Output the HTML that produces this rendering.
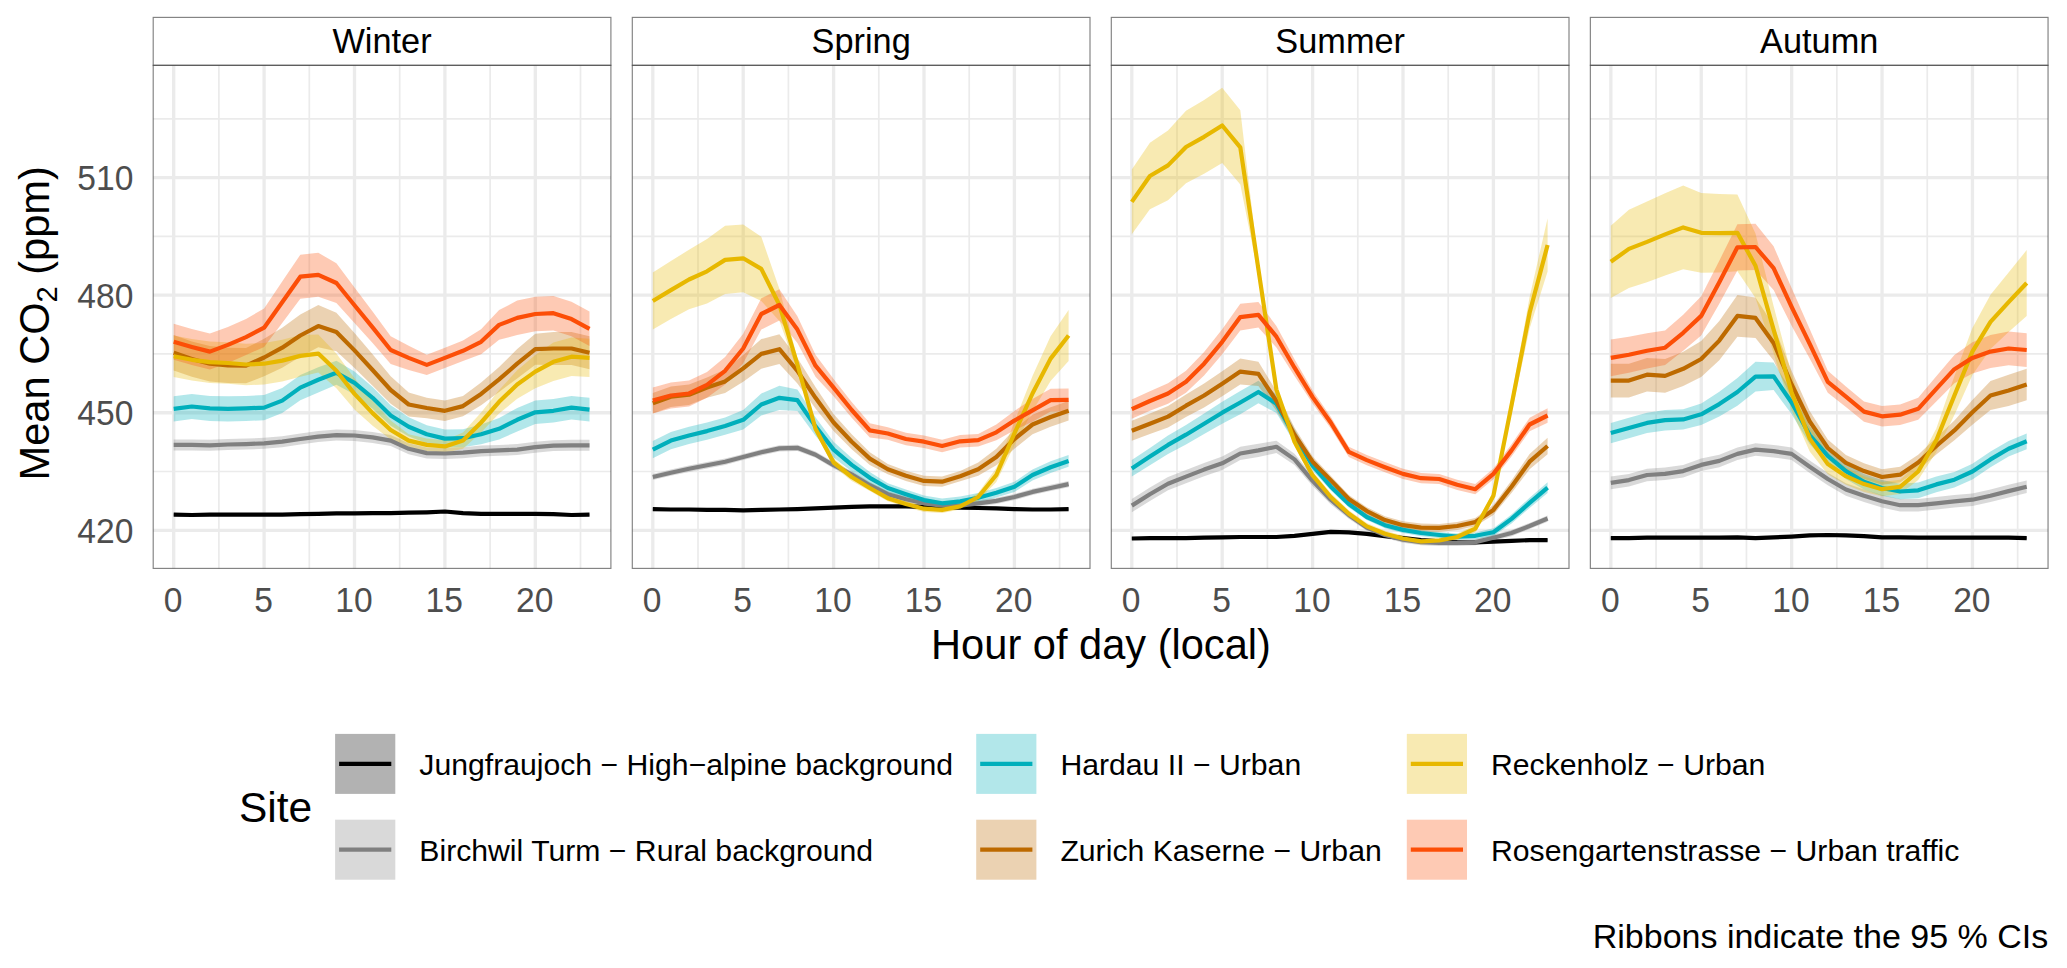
<!DOCTYPE html>
<html lang="en"><head><meta charset="utf-8"><title>Mean CO2 by hour of day</title>
<style>html,body{margin:0;padding:0;background:#fff}body{width:2067px;height:968px;overflow:hidden}svg{display:block}text{font-family:"Liberation Sans",Arial,sans-serif;font-variant-ligatures:none;font-feature-settings:"liga" 0,"clig" 0}</style>
</head><body>
<svg width="2067" height="968" viewBox="0 0 2067 968">
<rect width="2067" height="968" fill="#fff"/>
<defs>
<clipPath id="cp0"><rect x="153.20" y="65.30" width="457.70" height="503.10"/></clipPath>
<clipPath id="cp1"><rect x="632.30" y="65.30" width="457.70" height="503.10"/></clipPath>
<clipPath id="cp2"><rect x="1111.30" y="65.30" width="457.70" height="503.10"/></clipPath>
<clipPath id="cp3"><rect x="1590.35" y="65.30" width="457.70" height="503.10"/></clipPath>
</defs>
<g>
<path d="M153.20 471.51H610.90M153.20 353.94H610.90M153.20 236.37H610.90M153.20 118.80H610.90M218.90 65.30V568.40M309.30 65.30V568.40M399.70 65.30V568.40M490.10 65.30V568.40M580.50 65.30V568.40" stroke="#EBEBEB" stroke-width="1.7" fill="none"/>
<path d="M153.20 530.30H610.90M153.20 412.73H610.90M153.20 295.16H610.90M153.20 177.59H610.90M173.70 65.30V568.40M264.10 65.30V568.40M354.50 65.30V568.40M444.90 65.30V568.40M535.30 65.30V568.40" stroke="#EBEBEB" stroke-width="3.3" fill="none"/>
<g clip-path="url(#cp0)">
<path d="M173.7 513.4 L191.8 513.8 L209.9 513.4 L227.9 513.4 L246.0 513.4 L264.1 513.4 L282.2 513.4 L300.3 513.1 L318.3 512.7 L336.4 512.3 L354.5 512.3 L372.6 511.9 L390.7 511.9 L408.7 511.5 L426.8 511.1 L444.9 510.3 L463.0 511.9 L481.1 512.7 L499.1 512.7 L517.2 512.7 L535.3 512.7 L553.4 513.1 L571.5 513.8 L589.5 513.4 L589.5 515.8 L571.5 516.2 L553.4 515.4 L535.3 515.0 L517.2 515.0 L499.1 515.0 L481.1 515.0 L463.0 514.2 L444.9 512.7 L426.8 513.4 L408.7 513.8 L390.7 514.2 L372.6 514.2 L354.5 514.6 L336.4 514.6 L318.3 515.0 L300.3 515.4 L282.2 515.8 L264.1 515.8 L246.0 515.8 L227.9 515.8 L209.9 515.8 L191.8 516.2 L173.7 515.8 Z" fill="#000000" fill-opacity="0.30"/>
<path d="M173.7 439.4 L191.8 439.4 L209.9 439.8 L227.9 439.0 L246.0 438.6 L264.1 437.8 L282.2 436.2 L300.3 433.5 L318.3 431.1 L336.4 429.6 L354.5 430.0 L372.6 431.9 L390.7 435.1 L408.7 443.3 L426.8 447.6 L444.9 448.0 L463.0 447.2 L481.1 445.6 L499.1 444.9 L517.2 444.1 L535.3 441.7 L553.4 440.2 L571.5 439.8 L589.5 439.8 L589.5 450.7 L571.5 450.7 L553.4 451.1 L535.3 452.7 L517.2 455.1 L499.1 455.8 L481.1 456.6 L463.0 458.2 L444.9 459.0 L426.8 458.6 L408.7 454.3 L390.7 446.0 L372.6 442.9 L354.5 440.9 L336.4 440.6 L318.3 442.1 L300.3 444.5 L282.2 447.2 L264.1 448.8 L246.0 449.6 L227.9 450.0 L209.9 450.7 L191.8 450.4 L173.7 450.4 Z" fill="#808080" fill-opacity="0.30"/>
<path d="M173.7 396.3 L191.8 393.9 L209.9 395.9 L227.9 396.3 L246.0 395.9 L264.1 395.1 L282.2 388.0 L300.3 375.1 L318.3 367.3 L336.4 360.7 L354.5 371.4 L372.6 386.9 L390.7 405.2 L408.7 417.2 L426.8 425.3 L444.9 429.6 L463.0 429.2 L481.1 424.4 L499.1 418.0 L517.2 408.0 L535.3 400.6 L553.4 399.0 L571.5 395.9 L589.5 397.8 L589.5 421.4 L571.5 419.4 L553.4 422.5 L535.3 424.1 L517.2 431.5 L499.1 439.6 L481.1 444.2 L463.0 447.2 L444.9 447.6 L426.8 443.3 L408.7 436.5 L390.7 425.8 L372.6 408.8 L354.5 394.4 L336.4 384.8 L318.3 392.4 L300.3 400.2 L282.2 413.1 L264.1 420.2 L246.0 421.0 L227.9 421.4 L209.9 421.0 L191.8 419.0 L173.7 421.4 Z" fill="#00AFBB" fill-opacity="0.30"/>
<path d="M173.7 335.1 L191.8 341.4 L209.9 346.1 L227.9 347.7 L246.0 348.1 L264.1 338.7 L282.2 327.7 L300.3 314.4 L318.3 305.0 L336.4 312.7 L354.5 332.9 L372.6 354.3 L390.7 376.2 L408.7 392.5 L426.8 397.8 L444.9 400.6 L463.0 395.9 L481.1 382.6 L499.1 366.9 L517.2 349.1 L535.3 333.7 L553.4 332.0 L571.5 332.0 L589.5 336.3 L589.5 369.2 L571.5 364.9 L553.4 364.9 L535.3 364.8 L517.2 378.4 L499.1 392.0 L481.1 405.3 L463.0 416.3 L444.9 421.0 L426.8 418.2 L408.7 416.5 L390.7 403.8 L372.6 385.7 L354.5 367.9 L336.4 351.3 L318.3 347.3 L300.3 356.7 L282.2 367.7 L264.1 376.3 L246.0 383.3 L227.9 382.9 L209.9 381.4 L191.8 376.7 L173.7 370.4 Z" fill="#BD6A00" fill-opacity="0.30"/>
<path d="M173.7 335.5 L191.8 339.1 L209.9 341.4 L227.9 342.2 L246.0 343.8 L264.1 343.0 L282.2 339.8 L300.3 335.1 L318.3 334.5 L336.4 353.4 L354.5 378.2 L372.6 400.6 L390.7 420.6 L408.7 434.3 L426.8 438.6 L444.9 440.2 L463.0 432.5 L481.1 412.6 L499.1 390.0 L517.2 370.3 L535.3 354.9 L553.4 342.6 L571.5 337.5 L589.5 338.7 L589.5 377.1 L571.5 375.9 L553.4 381.0 L535.3 388.3 L517.2 398.8 L499.1 413.5 L481.1 432.5 L463.0 448.7 L444.9 452.7 L426.8 451.1 L408.7 446.8 L390.7 439.4 L372.6 425.7 L354.5 409.6 L336.4 388.2 L318.3 372.6 L300.3 376.7 L282.2 381.4 L264.1 384.5 L246.0 385.3 L227.9 383.7 L209.9 382.9 L191.8 380.6 L173.7 377.1 Z" fill="#E7B800" fill-opacity="0.30"/>
<path d="M173.7 323.8 L191.8 328.9 L209.9 333.6 L227.9 326.9 L246.0 319.1 L264.1 308.4 L282.2 281.6 L300.3 254.8 L318.3 252.8 L336.4 263.2 L354.5 287.6 L372.6 311.6 L390.7 336.2 L408.7 345.8 L426.8 354.7 L444.9 347.7 L463.0 340.6 L481.1 329.3 L499.1 310.1 L517.2 300.6 L535.3 296.7 L553.4 295.9 L571.5 301.8 L589.5 311.6 L589.5 346.1 L571.5 336.3 L553.4 330.4 L535.3 331.2 L517.2 335.1 L499.1 339.8 L481.1 354.3 L463.0 361.0 L444.9 368.1 L426.8 375.1 L408.7 369.9 L390.7 363.9 L372.6 343.0 L354.5 323.1 L336.4 302.9 L318.3 296.7 L300.3 298.7 L282.2 322.9 L264.1 347.0 L246.0 355.1 L227.9 363.0 L209.9 369.6 L191.8 364.9 L173.7 359.8 Z" fill="#FC4E07" fill-opacity="0.30"/>
<path d="M173.7 514.6 L191.8 515.0 L209.9 514.6 L227.9 514.6 L246.0 514.6 L264.1 514.6 L282.2 514.6 L300.3 514.2 L318.3 513.8 L336.4 513.4 L354.5 513.4 L372.6 513.1 L390.7 513.1 L408.7 512.7 L426.8 512.3 L444.9 511.5 L463.0 513.1 L481.1 513.8 L499.1 513.8 L517.2 513.8 L535.3 513.8 L553.4 514.2 L571.5 515.0 L589.5 514.6" fill="none" stroke="#000000" stroke-width="4.2" stroke-linejoin="round" stroke-linecap="butt"/>
<path d="M173.7 444.9 L191.8 444.9 L209.9 445.3 L227.9 444.5 L246.0 444.1 L264.1 443.3 L282.2 441.7 L300.3 439.0 L318.3 436.6 L336.4 435.1 L354.5 435.5 L372.6 437.4 L390.7 440.6 L408.7 448.8 L426.8 453.1 L444.9 453.5 L463.0 452.7 L481.1 451.1 L499.1 450.4 L517.2 449.6 L535.3 447.2 L553.4 445.6 L571.5 445.3 L589.5 445.3" fill="none" stroke="#808080" stroke-width="4.2" stroke-linejoin="round" stroke-linecap="butt"/>
<path d="M173.7 408.8 L191.8 406.5 L209.9 408.4 L227.9 408.8 L246.0 408.4 L264.1 407.6 L282.2 400.6 L300.3 387.6 L318.3 379.8 L336.4 372.8 L354.5 382.9 L372.6 397.8 L390.7 415.5 L408.7 426.8 L426.8 434.3 L444.9 438.6 L463.0 438.2 L481.1 434.3 L499.1 428.8 L517.2 419.8 L535.3 412.3 L553.4 410.8 L571.5 407.6 L589.5 409.6" fill="none" stroke="#00AFBB" stroke-width="4.2" stroke-linejoin="round" stroke-linecap="butt"/>
<path d="M173.7 352.8 L191.8 359.0 L209.9 363.7 L227.9 365.3 L246.0 365.7 L264.1 357.5 L282.2 347.7 L300.3 335.5 L318.3 326.1 L336.4 332.0 L354.5 350.4 L372.6 370.0 L390.7 390.0 L408.7 404.5 L426.8 408.0 L444.9 410.8 L463.0 406.1 L481.1 393.9 L499.1 379.4 L517.2 363.7 L535.3 349.2 L553.4 348.5 L571.5 348.5 L589.5 352.8" fill="none" stroke="#BD6A00" stroke-width="4.2" stroke-linejoin="round" stroke-linecap="butt"/>
<path d="M173.7 356.3 L191.8 359.8 L209.9 362.2 L227.9 363.0 L246.0 364.5 L264.1 363.7 L282.2 360.6 L300.3 355.9 L318.3 353.6 L336.4 370.8 L354.5 393.9 L372.6 413.1 L390.7 430.0 L408.7 440.6 L426.8 444.9 L444.9 446.4 L463.0 440.6 L481.1 422.5 L499.1 401.8 L517.2 384.5 L535.3 371.6 L553.4 361.8 L571.5 356.7 L589.5 357.9" fill="none" stroke="#E7B800" stroke-width="4.2" stroke-linejoin="round" stroke-linecap="butt"/>
<path d="M173.7 341.8 L191.8 346.9 L209.9 351.6 L227.9 344.9 L246.0 337.1 L264.1 327.7 L282.2 302.2 L300.3 276.7 L318.3 274.8 L336.4 283.0 L354.5 305.3 L372.6 327.3 L390.7 350.0 L408.7 357.9 L426.8 364.9 L444.9 357.9 L463.0 350.8 L481.1 341.8 L499.1 324.9 L517.2 317.9 L535.3 314.0 L553.4 313.2 L571.5 319.1 L589.5 328.9" fill="none" stroke="#FC4E07" stroke-width="4.2" stroke-linejoin="round" stroke-linecap="butt"/>
</g>
<rect x="153.20" y="17.40" width="457.70" height="47.90" fill="#fff" stroke="#333333" stroke-opacity="0.62" stroke-width="1.15"/>
<rect x="153.20" y="65.30" width="457.70" height="503.10" fill="none" stroke="#333333" stroke-opacity="0.62" stroke-width="1.15"/>
<text transform="translate(382.05 52.90) scale(1.01 1.055)" font-size="34" text-anchor="middle" fill="#000">Winter</text>
<text transform="translate(173.10 612.20) scale(0.955 1)" font-size="35.2" text-anchor="middle" fill="#4D4D4D">0</text>
<text transform="translate(263.50 612.20) scale(0.955 1)" font-size="35.2" text-anchor="middle" fill="#4D4D4D">5</text>
<text transform="translate(353.90 612.20) scale(0.955 1)" font-size="35.2" text-anchor="middle" fill="#4D4D4D">10</text>
<text transform="translate(444.30 612.20) scale(0.955 1)" font-size="35.2" text-anchor="middle" fill="#4D4D4D">15</text>
<text transform="translate(534.70 612.20) scale(0.955 1)" font-size="35.2" text-anchor="middle" fill="#4D4D4D">20</text>
</g>
<g>
<path d="M632.30 471.51H1090.00M632.30 353.94H1090.00M632.30 236.37H1090.00M632.30 118.80H1090.00M698.00 65.30V568.40M788.40 65.30V568.40M878.80 65.30V568.40M969.20 65.30V568.40M1059.60 65.30V568.40" stroke="#EBEBEB" stroke-width="1.7" fill="none"/>
<path d="M632.30 530.30H1090.00M632.30 412.73H1090.00M632.30 295.16H1090.00M632.30 177.59H1090.00M652.80 65.30V568.40M743.20 65.30V568.40M833.60 65.30V568.40M924.00 65.30V568.40M1014.40 65.30V568.40" stroke="#EBEBEB" stroke-width="3.3" fill="none"/>
<g clip-path="url(#cp1)">
<path d="M652.8 508.0 L670.9 508.4 L689.0 508.4 L707.0 508.7 L725.1 508.7 L743.2 509.1 L761.3 508.7 L779.4 508.4 L797.4 508.0 L815.5 507.2 L833.6 506.4 L851.7 505.6 L869.8 505.2 L887.8 505.2 L905.9 505.2 L924.0 505.6 L942.1 506.0 L960.2 506.4 L978.2 506.8 L996.3 507.2 L1014.4 508.0 L1032.5 508.4 L1050.6 508.4 L1068.6 508.0 L1068.6 510.3 L1050.6 510.7 L1032.5 510.7 L1014.4 510.3 L996.3 509.5 L978.2 509.1 L960.2 508.7 L942.1 508.4 L924.0 508.0 L905.9 507.6 L887.8 507.6 L869.8 507.6 L851.7 508.0 L833.6 508.7 L815.5 509.5 L797.4 510.3 L779.4 510.7 L761.3 511.1 L743.2 511.5 L725.1 511.1 L707.0 511.1 L689.0 510.7 L670.9 510.7 L652.8 510.3 Z" fill="#000000" fill-opacity="0.30"/>
<path d="M652.8 473.9 L670.9 469.6 L689.0 465.6 L707.0 462.1 L725.1 458.6 L743.2 453.9 L761.3 449.2 L779.4 445.3 L797.4 444.7 L815.5 451.5 L833.6 462.1 L851.7 471.1 L869.8 482.1 L887.8 491.1 L905.9 496.2 L924.0 500.1 L942.1 502.5 L960.2 502.5 L978.2 500.1 L996.3 497.8 L1014.4 493.9 L1032.5 488.8 L1050.6 484.8 L1068.6 480.9 L1068.6 487.2 L1050.6 491.1 L1032.5 495.0 L1014.4 500.1 L996.3 504.0 L978.2 506.4 L960.2 508.7 L942.1 508.7 L924.0 506.4 L905.9 502.5 L887.8 497.4 L869.8 488.4 L851.7 477.4 L833.6 468.4 L815.5 457.8 L797.4 450.9 L779.4 451.5 L761.3 455.4 L743.2 460.1 L725.1 464.9 L707.0 468.4 L689.0 471.9 L670.9 475.8 L652.8 480.1 Z" fill="#808080" fill-opacity="0.30"/>
<path d="M652.8 440.9 L670.9 431.9 L689.0 426.8 L707.0 422.5 L725.1 417.4 L743.2 410.0 L761.3 393.5 L779.4 385.7 L797.4 389.5 L815.5 417.2 L833.6 441.7 L851.7 458.1 L869.8 472.0 L887.8 483.3 L905.9 489.5 L924.0 495.4 L942.1 498.6 L960.2 496.6 L978.2 493.1 L996.3 488.0 L1014.4 481.7 L1032.5 469.6 L1050.6 461.3 L1068.6 455.1 L1068.6 466.8 L1050.6 473.1 L1032.5 480.5 L1014.4 491.9 L996.3 497.4 L978.2 502.5 L960.2 506.0 L942.1 508.0 L924.0 504.8 L905.9 498.9 L887.8 492.7 L869.8 483.5 L851.7 471.6 L833.6 457.4 L815.5 435.7 L797.4 410.9 L779.4 410.0 L761.3 415.5 L743.2 429.6 L725.1 434.7 L707.0 439.8 L689.0 444.1 L670.9 449.2 L652.8 458.2 Z" fill="#00AFBB" fill-opacity="0.30"/>
<path d="M652.8 393.1 L670.9 386.5 L689.0 384.5 L707.0 377.5 L725.1 369.6 L743.2 355.1 L761.3 339.1 L779.4 334.3 L797.4 358.0 L815.5 387.1 L833.6 413.9 L851.7 434.3 L869.8 452.3 L887.8 464.1 L905.9 470.7 L924.0 475.8 L942.1 476.6 L960.2 471.1 L978.2 462.5 L996.3 448.8 L1014.4 429.2 L1032.5 414.7 L1050.6 407.2 L1068.6 401.0 L1068.6 420.6 L1050.6 426.8 L1032.5 434.3 L1014.4 448.8 L996.3 465.2 L978.2 475.8 L960.2 481.3 L942.1 486.8 L924.0 486.0 L905.9 480.9 L887.8 474.3 L869.8 464.9 L851.7 449.2 L833.6 431.1 L815.5 408.5 L797.4 383.6 L779.4 364.1 L761.3 368.8 L743.2 381.8 L725.1 393.1 L707.0 397.8 L689.0 404.9 L670.9 406.9 L652.8 413.5 Z" fill="#BD6A00" fill-opacity="0.30"/>
<path d="M652.8 272.6 L670.9 261.1 L689.0 249.7 L707.0 239.1 L725.1 225.8 L743.2 224.4 L761.3 236.8 L779.4 288.9 L797.4 358.3 L815.5 424.9 L833.6 458.6 L851.7 473.1 L869.8 484.8 L887.8 495.0 L905.9 500.9 L924.0 505.6 L942.1 506.8 L960.2 503.3 L978.2 493.1 L996.3 468.0 L1014.4 421.7 L1032.5 375.9 L1050.6 336.3 L1068.6 310.1 L1068.6 361.0 L1050.6 381.0 L1032.5 411.2 L1014.4 445.3 L996.3 482.1 L978.2 500.9 L960.2 509.5 L942.1 513.1 L924.0 511.9 L905.9 507.2 L887.8 501.3 L869.8 491.1 L851.7 480.9 L833.6 466.4 L815.5 432.7 L797.4 370.8 L779.4 321.0 L761.3 301.0 L743.2 292.2 L725.1 294.0 L707.0 303.4 L689.0 309.3 L670.9 319.1 L652.8 329.5 Z" fill="#E7B800" fill-opacity="0.30"/>
<path d="M652.8 387.6 L670.9 382.6 L689.0 380.6 L707.0 372.0 L725.1 356.9 L743.2 333.7 L761.3 298.3 L779.4 289.3 L797.4 316.3 L815.5 354.7 L833.6 379.0 L851.7 402.1 L869.8 423.3 L887.8 427.2 L905.9 432.7 L924.0 435.5 L942.1 439.8 L960.2 435.1 L978.2 433.9 L996.3 424.4 L1014.4 410.9 L1032.5 399.0 L1050.6 388.8 L1068.6 388.4 L1068.6 411.2 L1050.6 411.6 L1032.5 421.7 L1014.4 430.2 L996.3 440.3 L978.2 446.4 L960.2 447.6 L942.1 452.3 L924.0 448.0 L905.9 445.3 L887.8 439.8 L869.8 437.4 L851.7 417.8 L833.6 396.3 L815.5 376.7 L797.4 343.0 L779.4 320.6 L761.3 329.6 L743.2 363.2 L725.1 384.6 L707.0 397.8 L689.0 406.5 L670.9 408.4 L652.8 413.5 Z" fill="#FC4E07" fill-opacity="0.30"/>
<path d="M652.8 509.1 L670.9 509.5 L689.0 509.5 L707.0 509.9 L725.1 509.9 L743.2 510.3 L761.3 509.9 L779.4 509.5 L797.4 509.1 L815.5 508.4 L833.6 507.6 L851.7 506.8 L869.8 506.4 L887.8 506.4 L905.9 506.4 L924.0 506.8 L942.1 507.2 L960.2 507.6 L978.2 508.0 L996.3 508.4 L1014.4 509.1 L1032.5 509.5 L1050.6 509.5 L1068.6 509.1" fill="none" stroke="#000000" stroke-width="4.2" stroke-linejoin="round" stroke-linecap="butt"/>
<path d="M652.8 477.0 L670.9 472.7 L689.0 468.8 L707.0 465.2 L725.1 461.7 L743.2 457.0 L761.3 452.3 L779.4 448.4 L797.4 447.8 L815.5 454.7 L833.6 465.2 L851.7 474.3 L869.8 485.2 L887.8 494.2 L905.9 499.3 L924.0 503.3 L942.1 505.6 L960.2 505.6 L978.2 503.3 L996.3 500.9 L1014.4 497.0 L1032.5 491.9 L1050.6 488.0 L1068.6 484.1" fill="none" stroke="#808080" stroke-width="4.2" stroke-linejoin="round" stroke-linecap="butt"/>
<path d="M652.8 449.6 L670.9 440.6 L689.0 435.5 L707.0 431.1 L725.1 426.1 L743.2 419.8 L761.3 404.5 L779.4 397.8 L797.4 400.2 L815.5 426.4 L833.6 449.6 L851.7 464.9 L869.8 477.8 L887.8 488.0 L905.9 494.2 L924.0 500.1 L942.1 503.3 L960.2 501.3 L978.2 497.8 L996.3 492.7 L1014.4 486.8 L1032.5 475.0 L1050.6 467.2 L1068.6 460.9" fill="none" stroke="#00AFBB" stroke-width="4.2" stroke-linejoin="round" stroke-linecap="butt"/>
<path d="M652.8 403.3 L670.9 396.7 L689.0 394.7 L707.0 387.6 L725.1 381.4 L743.2 368.4 L761.3 353.9 L779.4 349.2 L797.4 370.8 L815.5 397.8 L833.6 422.5 L851.7 441.7 L869.8 458.6 L887.8 469.2 L905.9 475.8 L924.0 480.9 L942.1 481.7 L960.2 476.2 L978.2 469.2 L996.3 457.0 L1014.4 439.0 L1032.5 424.5 L1050.6 417.0 L1068.6 410.8" fill="none" stroke="#BD6A00" stroke-width="4.2" stroke-linejoin="round" stroke-linecap="butt"/>
<path d="M652.8 301.0 L670.9 290.1 L689.0 279.5 L707.0 271.3 L725.1 259.9 L743.2 258.3 L761.3 268.9 L779.4 305.0 L797.4 364.5 L815.5 428.8 L833.6 462.5 L851.7 477.0 L869.8 488.0 L887.8 498.2 L905.9 504.0 L924.0 508.7 L942.1 509.9 L960.2 506.4 L978.2 497.0 L996.3 475.0 L1014.4 433.5 L1032.5 393.5 L1050.6 358.6 L1068.6 335.5" fill="none" stroke="#E7B800" stroke-width="4.2" stroke-linejoin="round" stroke-linecap="butt"/>
<path d="M652.8 400.6 L670.9 395.5 L689.0 393.5 L707.0 384.9 L725.1 370.8 L743.2 348.5 L761.3 314.0 L779.4 305.0 L797.4 329.6 L815.5 365.7 L833.6 387.6 L851.7 410.0 L869.8 430.4 L887.8 433.5 L905.9 439.0 L924.0 441.7 L942.1 446.0 L960.2 441.3 L978.2 440.2 L996.3 432.3 L1014.4 420.6 L1032.5 410.4 L1050.6 400.2 L1068.6 399.8" fill="none" stroke="#FC4E07" stroke-width="4.2" stroke-linejoin="round" stroke-linecap="butt"/>
</g>
<rect x="632.30" y="17.40" width="457.70" height="47.90" fill="#fff" stroke="#333333" stroke-opacity="0.62" stroke-width="1.15"/>
<rect x="632.30" y="65.30" width="457.70" height="503.10" fill="none" stroke="#333333" stroke-opacity="0.62" stroke-width="1.15"/>
<text transform="translate(861.15 52.90) scale(1.01 1.055)" font-size="34" text-anchor="middle" fill="#000">Spring</text>
<text transform="translate(652.20 612.20) scale(0.955 1)" font-size="35.2" text-anchor="middle" fill="#4D4D4D">0</text>
<text transform="translate(742.60 612.20) scale(0.955 1)" font-size="35.2" text-anchor="middle" fill="#4D4D4D">5</text>
<text transform="translate(833.00 612.20) scale(0.955 1)" font-size="35.2" text-anchor="middle" fill="#4D4D4D">10</text>
<text transform="translate(923.40 612.20) scale(0.955 1)" font-size="35.2" text-anchor="middle" fill="#4D4D4D">15</text>
<text transform="translate(1013.80 612.20) scale(0.955 1)" font-size="35.2" text-anchor="middle" fill="#4D4D4D">20</text>
</g>
<g>
<path d="M1111.30 471.51H1569.00M1111.30 353.94H1569.00M1111.30 236.37H1569.00M1111.30 118.80H1569.00M1177.00 65.30V568.40M1267.40 65.30V568.40M1357.80 65.30V568.40M1448.20 65.30V568.40M1538.60 65.30V568.40" stroke="#EBEBEB" stroke-width="1.7" fill="none"/>
<path d="M1111.30 530.30H1569.00M1111.30 412.73H1569.00M1111.30 295.16H1569.00M1111.30 177.59H1569.00M1131.80 65.30V568.40M1222.20 65.30V568.40M1312.60 65.30V568.40M1403.00 65.30V568.40M1493.40 65.30V568.40" stroke="#EBEBEB" stroke-width="3.3" fill="none"/>
<g clip-path="url(#cp2)">
<path d="M1131.8 537.4 L1149.9 537.0 L1168.0 537.0 L1186.0 537.0 L1204.1 536.6 L1222.2 536.2 L1240.3 535.8 L1258.4 535.8 L1276.4 535.8 L1294.5 534.6 L1312.6 532.7 L1330.7 530.7 L1348.8 531.1 L1366.8 532.7 L1384.9 535.0 L1403.0 537.0 L1421.1 538.9 L1439.2 540.1 L1457.2 540.9 L1475.3 541.3 L1493.4 540.5 L1511.5 539.7 L1529.6 538.9 L1547.6 538.9 L1547.6 541.3 L1529.6 541.3 L1511.5 542.1 L1493.4 542.8 L1475.3 543.6 L1457.2 543.2 L1439.2 542.4 L1421.1 541.3 L1403.0 539.3 L1384.9 537.4 L1366.8 535.0 L1348.8 533.4 L1330.7 533.0 L1312.6 535.0 L1294.5 537.0 L1276.4 538.1 L1258.4 538.1 L1240.3 538.1 L1222.2 538.5 L1204.1 538.9 L1186.0 539.3 L1168.0 539.3 L1149.9 539.3 L1131.8 539.7 Z" fill="#000000" fill-opacity="0.30"/>
<path d="M1131.8 498.9 L1149.9 487.6 L1168.0 477.0 L1186.0 469.9 L1204.1 462.9 L1222.2 456.6 L1240.3 446.8 L1258.4 443.7 L1276.4 440.7 L1294.5 453.7 L1312.6 475.8 L1330.7 495.3 L1348.8 511.2 L1366.8 524.4 L1384.9 531.9 L1403.0 536.6 L1421.1 538.9 L1439.2 539.7 L1457.2 539.7 L1475.3 538.9 L1493.4 534.6 L1511.5 529.9 L1529.6 522.9 L1547.6 515.4 L1547.6 521.7 L1529.6 529.1 L1511.5 536.2 L1493.4 540.9 L1475.3 545.2 L1457.2 546.0 L1439.2 546.0 L1421.1 545.2 L1403.0 542.8 L1384.9 538.1 L1366.8 530.7 L1348.8 518.8 L1330.7 504.2 L1312.6 486.0 L1294.5 465.0 L1276.4 453.0 L1258.4 457.0 L1240.3 460.1 L1222.2 469.9 L1204.1 476.2 L1186.0 483.3 L1168.0 490.3 L1149.9 500.9 L1131.8 512.3 Z" fill="#808080" fill-opacity="0.30"/>
<path d="M1131.8 460.1 L1149.9 448.0 L1168.0 435.6 L1186.0 424.9 L1204.1 413.4 L1222.2 401.8 L1240.3 390.9 L1258.4 380.7 L1276.4 394.3 L1294.5 428.9 L1312.6 460.7 L1330.7 482.5 L1348.8 500.6 L1366.8 513.8 L1384.9 522.1 L1403.0 526.8 L1421.1 529.9 L1439.2 531.9 L1457.2 533.4 L1475.3 532.4 L1493.4 528.3 L1511.5 514.4 L1529.6 497.8 L1547.6 482.3 L1547.6 492.9 L1529.6 508.0 L1511.5 523.5 L1493.4 536.2 L1475.3 539.2 L1457.2 539.7 L1439.2 538.1 L1421.1 536.2 L1403.0 533.0 L1384.9 528.3 L1366.8 520.1 L1348.8 507.4 L1330.7 490.3 L1312.6 470.6 L1294.5 442.8 L1276.4 413.1 L1258.4 403.2 L1240.3 414.2 L1222.2 423.7 L1204.1 434.0 L1186.0 444.5 L1168.0 454.1 L1149.9 465.2 L1131.8 476.6 Z" fill="#00AFBB" fill-opacity="0.30"/>
<path d="M1131.8 420.8 L1149.9 413.5 L1168.0 405.9 L1186.0 394.4 L1204.1 383.6 L1222.2 371.2 L1240.3 358.5 L1258.4 361.8 L1276.4 391.2 L1294.5 427.6 L1312.6 456.5 L1330.7 475.7 L1348.8 494.9 L1366.8 507.2 L1384.9 516.2 L1403.0 521.3 L1421.1 523.6 L1439.2 524.0 L1457.2 522.1 L1475.3 517.9 L1493.4 505.0 L1511.5 480.5 L1529.6 454.1 L1547.6 437.8 L1547.6 454.3 L1529.6 469.3 L1511.5 493.1 L1493.4 514.9 L1475.3 526.3 L1457.2 529.9 L1439.2 531.9 L1421.1 531.5 L1403.0 529.1 L1384.9 524.0 L1366.8 515.0 L1348.8 503.0 L1330.7 484.6 L1312.6 466.9 L1294.5 441.7 L1276.4 410.8 L1258.4 386.1 L1240.3 384.6 L1222.2 396.3 L1204.1 407.4 L1186.0 416.9 L1168.0 427.4 L1149.9 433.9 L1131.8 440.8 Z" fill="#BD6A00" fill-opacity="0.30"/>
<path d="M1131.8 169.6 L1149.9 142.8 L1168.0 130.6 L1186.0 110.8 L1204.1 100.0 L1222.2 87.8 L1240.3 110.2 L1258.4 263.4 L1276.4 384.9 L1294.5 437.4 L1312.6 471.3 L1330.7 493.1 L1348.8 510.3 L1366.8 523.1 L1384.9 530.7 L1403.0 535.4 L1421.1 538.1 L1439.2 537.4 L1457.2 533.7 L1475.3 524.9 L1493.4 491.7 L1511.5 396.7 L1529.6 297.1 L1547.6 218.3 L1547.6 271.6 L1529.6 328.5 L1511.5 413.9 L1493.4 499.9 L1475.3 532.5 L1457.2 540.2 L1439.2 543.6 L1421.1 544.4 L1403.0 541.7 L1384.9 537.0 L1366.8 529.6 L1348.8 517.4 L1330.7 500.9 L1312.6 479.6 L1294.5 446.0 L1276.4 394.3 L1258.4 275.2 L1240.3 184.6 L1222.2 163.1 L1204.1 173.7 L1186.0 183.2 L1168.0 200.3 L1149.9 209.2 L1131.8 234.2 Z" fill="#E7B800" fill-opacity="0.30"/>
<path d="M1131.8 399.6 L1149.9 391.2 L1168.0 383.2 L1186.0 370.8 L1204.1 352.0 L1222.2 329.3 L1240.3 303.8 L1258.4 302.0 L1276.4 325.9 L1294.5 359.3 L1312.6 390.5 L1330.7 416.8 L1348.8 446.7 L1366.8 455.1 L1384.9 462.1 L1403.0 468.8 L1421.1 473.1 L1439.2 473.9 L1457.2 479.7 L1475.3 484.1 L1493.4 468.5 L1511.5 444.3 L1529.6 417.7 L1547.6 408.2 L1547.6 422.7 L1529.6 431.3 L1511.5 456.4 L1493.4 479.2 L1475.3 494.2 L1457.2 489.9 L1439.2 484.1 L1421.1 483.3 L1403.0 479.0 L1384.9 472.3 L1366.8 465.2 L1348.8 457.1 L1330.7 428.3 L1312.6 403.6 L1294.5 376.0 L1276.4 347.5 L1258.4 327.6 L1240.3 330.4 L1222.2 354.3 L1204.1 375.5 L1186.0 392.7 L1168.0 403.8 L1149.9 410.8 L1131.8 418.8 Z" fill="#FC4E07" fill-opacity="0.30"/>
<path d="M1131.8 538.5 L1149.9 538.1 L1168.0 538.1 L1186.0 538.1 L1204.1 537.7 L1222.2 537.4 L1240.3 537.0 L1258.4 537.0 L1276.4 537.0 L1294.5 535.8 L1312.6 533.8 L1330.7 531.9 L1348.8 532.3 L1366.8 533.8 L1384.9 536.2 L1403.0 538.1 L1421.1 540.1 L1439.2 541.3 L1457.2 542.1 L1475.3 542.4 L1493.4 541.7 L1511.5 540.9 L1529.6 540.1 L1547.6 540.1" fill="none" stroke="#000000" stroke-width="4.2" stroke-linejoin="round" stroke-linecap="butt"/>
<path d="M1131.8 505.6 L1149.9 494.2 L1168.0 483.7 L1186.0 476.6 L1204.1 469.6 L1222.2 463.3 L1240.3 453.5 L1258.4 450.4 L1276.4 446.8 L1294.5 459.4 L1312.6 480.9 L1330.7 499.7 L1348.8 515.0 L1366.8 527.6 L1384.9 535.0 L1403.0 539.7 L1421.1 542.1 L1439.2 542.8 L1457.2 542.8 L1475.3 542.1 L1493.4 537.7 L1511.5 533.0 L1529.6 526.0 L1547.6 518.5" fill="none" stroke="#808080" stroke-width="4.2" stroke-linejoin="round" stroke-linecap="butt"/>
<path d="M1131.8 468.4 L1149.9 456.6 L1168.0 444.9 L1186.0 434.7 L1204.1 423.7 L1222.2 412.7 L1240.3 402.5 L1258.4 392.0 L1276.4 403.7 L1294.5 435.9 L1312.6 465.6 L1330.7 486.4 L1348.8 504.0 L1366.8 517.0 L1384.9 525.2 L1403.0 529.9 L1421.1 533.0 L1439.2 535.0 L1457.2 536.6 L1475.3 535.8 L1493.4 532.3 L1511.5 518.9 L1529.6 502.9 L1547.6 487.6" fill="none" stroke="#00AFBB" stroke-width="4.2" stroke-linejoin="round" stroke-linecap="butt"/>
<path d="M1131.8 430.8 L1149.9 423.7 L1168.0 416.6 L1186.0 405.7 L1204.1 395.5 L1222.2 383.7 L1240.3 371.6 L1258.4 373.9 L1276.4 401.0 L1294.5 434.7 L1312.6 461.7 L1330.7 480.1 L1348.8 498.9 L1366.8 511.1 L1384.9 520.1 L1403.0 525.2 L1421.1 527.6 L1439.2 527.9 L1457.2 526.0 L1475.3 522.1 L1493.4 509.9 L1511.5 486.8 L1529.6 461.7 L1547.6 446.0" fill="none" stroke="#BD6A00" stroke-width="4.2" stroke-linejoin="round" stroke-linecap="butt"/>
<path d="M1131.8 201.9 L1149.9 176.0 L1168.0 165.4 L1186.0 147.0 L1204.1 136.8 L1222.2 125.5 L1240.3 147.4 L1258.4 269.3 L1276.4 389.6 L1294.5 441.7 L1312.6 475.4 L1330.7 497.0 L1348.8 513.8 L1366.8 526.4 L1384.9 533.8 L1403.0 538.5 L1421.1 541.3 L1439.2 540.5 L1457.2 537.0 L1475.3 528.7 L1493.4 495.8 L1511.5 405.3 L1529.6 312.8 L1547.6 245.0" fill="none" stroke="#E7B800" stroke-width="4.2" stroke-linejoin="round" stroke-linecap="butt"/>
<path d="M1131.8 409.2 L1149.9 401.0 L1168.0 393.5 L1186.0 381.8 L1204.1 363.7 L1222.2 341.8 L1240.3 317.1 L1258.4 314.8 L1276.4 336.7 L1294.5 367.7 L1312.6 397.1 L1330.7 422.5 L1348.8 451.9 L1366.8 460.1 L1384.9 467.2 L1403.0 473.9 L1421.1 478.2 L1439.2 479.0 L1457.2 484.8 L1475.3 489.2 L1493.4 473.9 L1511.5 450.4 L1529.6 424.5 L1547.6 415.5" fill="none" stroke="#FC4E07" stroke-width="4.2" stroke-linejoin="round" stroke-linecap="butt"/>
</g>
<rect x="1111.30" y="17.40" width="457.70" height="47.90" fill="#fff" stroke="#333333" stroke-opacity="0.62" stroke-width="1.15"/>
<rect x="1111.30" y="65.30" width="457.70" height="503.10" fill="none" stroke="#333333" stroke-opacity="0.62" stroke-width="1.15"/>
<text transform="translate(1340.15 52.90) scale(1.01 1.055)" font-size="34" text-anchor="middle" fill="#000">Summer</text>
<text transform="translate(1131.20 612.20) scale(0.955 1)" font-size="35.2" text-anchor="middle" fill="#4D4D4D">0</text>
<text transform="translate(1221.60 612.20) scale(0.955 1)" font-size="35.2" text-anchor="middle" fill="#4D4D4D">5</text>
<text transform="translate(1312.00 612.20) scale(0.955 1)" font-size="35.2" text-anchor="middle" fill="#4D4D4D">10</text>
<text transform="translate(1402.40 612.20) scale(0.955 1)" font-size="35.2" text-anchor="middle" fill="#4D4D4D">15</text>
<text transform="translate(1492.80 612.20) scale(0.955 1)" font-size="35.2" text-anchor="middle" fill="#4D4D4D">20</text>
</g>
<g>
<path d="M1590.35 471.51H2048.05M1590.35 353.94H2048.05M1590.35 236.37H2048.05M1590.35 118.80H2048.05M1656.05 65.30V568.40M1746.45 65.30V568.40M1836.85 65.30V568.40M1927.25 65.30V568.40M2017.65 65.30V568.40" stroke="#EBEBEB" stroke-width="1.7" fill="none"/>
<path d="M1590.35 530.30H2048.05M1590.35 412.73H2048.05M1590.35 295.16H2048.05M1590.35 177.59H2048.05M1610.85 65.30V568.40M1701.25 65.30V568.40M1791.65 65.30V568.40M1882.05 65.30V568.40M1972.45 65.30V568.40" stroke="#EBEBEB" stroke-width="3.3" fill="none"/>
<g clip-path="url(#cp3)">
<path d="M1610.8 537.0 L1628.9 537.0 L1647.0 536.6 L1665.1 536.6 L1683.2 536.6 L1701.2 536.6 L1719.3 536.6 L1737.4 536.2 L1755.5 537.0 L1773.6 536.2 L1791.6 535.4 L1809.7 534.2 L1827.8 533.8 L1845.9 534.2 L1864.0 535.0 L1882.0 536.2 L1900.1 536.2 L1918.2 536.6 L1936.3 536.6 L1954.4 536.6 L1972.4 536.6 L1990.5 536.6 L2008.6 536.6 L2026.7 537.0 L2026.7 539.3 L2008.6 538.9 L1990.5 538.9 L1972.4 538.9 L1954.4 538.9 L1936.3 538.9 L1918.2 538.9 L1900.1 538.5 L1882.0 538.5 L1864.0 537.4 L1845.9 536.6 L1827.8 536.2 L1809.7 536.6 L1791.6 537.7 L1773.6 538.5 L1755.5 539.3 L1737.4 538.5 L1719.3 538.9 L1701.2 538.9 L1683.2 538.9 L1665.1 538.9 L1647.0 538.9 L1628.9 539.3 L1610.8 539.3 Z" fill="#000000" fill-opacity="0.30"/>
<path d="M1610.8 476.6 L1628.9 473.9 L1647.0 468.8 L1665.1 467.6 L1683.2 464.9 L1701.2 458.6 L1719.3 454.7 L1737.4 447.6 L1755.5 443.3 L1773.6 444.9 L1791.6 447.6 L1809.7 460.5 L1827.8 472.7 L1845.9 483.3 L1864.0 489.5 L1882.0 495.0 L1900.1 498.9 L1918.2 498.9 L1936.3 497.0 L1954.4 495.0 L1972.4 493.5 L1990.5 489.5 L2008.6 484.8 L2026.7 480.5 L2026.7 493.1 L2008.6 497.4 L1990.5 502.1 L1972.4 506.0 L1954.4 507.6 L1936.3 509.5 L1918.2 511.5 L1900.1 511.5 L1882.0 507.6 L1864.0 502.1 L1845.9 495.8 L1827.8 485.2 L1809.7 473.1 L1791.6 460.1 L1773.6 457.4 L1755.5 455.8 L1737.4 460.1 L1719.3 467.2 L1701.2 471.1 L1683.2 477.4 L1665.1 480.1 L1647.0 481.3 L1628.9 486.4 L1610.8 489.2 Z" fill="#808080" fill-opacity="0.30"/>
<path d="M1610.8 422.9 L1628.9 417.8 L1647.0 412.7 L1665.1 410.0 L1683.2 409.2 L1701.2 403.6 L1719.3 391.8 L1737.4 378.1 L1755.5 361.8 L1773.6 362.4 L1791.6 391.0 L1809.7 425.9 L1827.8 448.0 L1845.9 463.3 L1864.0 473.9 L1882.0 480.1 L1900.1 483.7 L1918.2 482.5 L1936.3 476.6 L1954.4 471.9 L1972.4 463.7 L1990.5 451.5 L2008.6 440.9 L2026.7 433.5 L2026.7 449.2 L2008.6 456.6 L1990.5 467.2 L1972.4 479.4 L1954.4 487.6 L1936.3 492.3 L1918.2 498.2 L1900.1 499.3 L1882.0 495.8 L1864.0 489.5 L1845.9 479.0 L1827.8 463.7 L1809.7 444.2 L1791.6 414.0 L1773.6 390.1 L1755.5 391.6 L1737.4 405.8 L1719.3 416.4 L1701.2 425.0 L1683.2 429.6 L1665.1 430.4 L1647.0 433.1 L1628.9 438.2 L1610.8 443.3 Z" fill="#00AFBB" fill-opacity="0.30"/>
<path d="M1610.8 363.7 L1628.9 363.7 L1647.0 357.9 L1665.1 359.0 L1683.2 351.7 L1701.2 341.0 L1719.3 321.0 L1737.4 295.0 L1755.5 297.6 L1773.6 325.3 L1791.6 370.8 L1809.7 410.9 L1827.8 439.5 L1845.9 455.1 L1864.0 463.3 L1882.0 469.2 L1900.1 466.8 L1918.2 454.7 L1936.3 437.6 L1954.4 420.6 L1972.4 399.9 L1990.5 381.1 L2008.6 374.7 L2026.7 368.8 L2026.7 400.2 L2008.6 406.1 L1990.5 409.9 L1972.4 424.7 L1954.4 440.2 L1936.3 454.5 L1918.2 470.3 L1900.1 482.5 L1882.0 484.8 L1864.0 479.0 L1845.9 470.7 L1827.8 456.5 L1809.7 431.8 L1791.6 398.2 L1773.6 360.6 L1755.5 338.1 L1737.4 336.8 L1719.3 360.2 L1701.2 377.1 L1683.2 386.0 L1665.1 392.7 L1647.0 391.6 L1628.9 397.4 L1610.8 397.4 Z" fill="#BD6A00" fill-opacity="0.30"/>
<path d="M1610.8 225.8 L1628.9 209.7 L1647.0 201.5 L1665.1 193.3 L1683.2 185.4 L1701.2 192.9 L1719.3 194.0 L1737.4 194.4 L1755.5 233.6 L1773.6 306.1 L1791.6 374.3 L1809.7 425.7 L1827.8 453.9 L1845.9 467.6 L1864.0 476.2 L1882.0 482.1 L1900.1 479.7 L1918.2 462.9 L1936.3 428.4 L1954.4 375.9 L1972.4 328.1 L1990.5 294.8 L2008.6 272.4 L2026.7 250.1 L2026.7 315.9 L2008.6 332.0 L1990.5 348.9 L1972.4 375.1 L1954.4 415.1 L1936.3 451.9 L1918.2 480.1 L1900.1 493.9 L1882.0 496.2 L1864.0 491.9 L1845.9 484.8 L1827.8 474.3 L1809.7 451.5 L1791.6 410.4 L1773.6 353.2 L1755.5 297.9 L1737.4 271.3 L1719.3 272.4 L1701.2 272.8 L1683.2 269.3 L1665.1 275.6 L1647.0 282.2 L1628.9 288.1 L1610.8 297.9 Z" fill="#E7B800" fill-opacity="0.30"/>
<path d="M1610.8 339.4 L1628.9 336.7 L1647.0 333.2 L1665.1 330.4 L1683.2 314.8 L1701.2 296.3 L1719.3 260.7 L1737.4 224.2 L1755.5 223.8 L1773.6 246.2 L1791.6 288.1 L1809.7 328.9 L1827.8 370.8 L1845.9 386.5 L1864.0 401.4 L1882.0 406.1 L1900.1 404.5 L1918.2 397.8 L1936.3 376.3 L1954.4 355.1 L1972.4 342.2 L1990.5 335.1 L2008.6 331.6 L2026.7 333.2 L2026.7 366.9 L2008.6 365.3 L1990.5 368.1 L1972.4 373.5 L1954.4 383.3 L1936.3 401.4 L1918.2 419.8 L1900.1 424.9 L1882.0 426.4 L1864.0 421.7 L1845.9 406.9 L1827.8 392.7 L1809.7 358.6 L1791.6 325.7 L1773.6 290.1 L1755.5 270.1 L1737.4 270.5 L1719.3 303.8 L1701.2 335.5 L1683.2 350.8 L1665.1 364.9 L1647.0 368.4 L1628.9 372.8 L1610.8 376.3 Z" fill="#FC4E07" fill-opacity="0.30"/>
<path d="M1610.8 538.1 L1628.9 538.1 L1647.0 537.7 L1665.1 537.7 L1683.2 537.7 L1701.2 537.7 L1719.3 537.7 L1737.4 537.4 L1755.5 538.1 L1773.6 537.4 L1791.6 536.6 L1809.7 535.4 L1827.8 535.0 L1845.9 535.4 L1864.0 536.2 L1882.0 537.4 L1900.1 537.4 L1918.2 537.7 L1936.3 537.7 L1954.4 537.7 L1972.4 537.7 L1990.5 537.7 L2008.6 537.7 L2026.7 538.1" fill="none" stroke="#000000" stroke-width="4.2" stroke-linejoin="round" stroke-linecap="butt"/>
<path d="M1610.8 482.9 L1628.9 480.1 L1647.0 475.0 L1665.1 473.9 L1683.2 471.1 L1701.2 464.9 L1719.3 460.9 L1737.4 453.9 L1755.5 449.6 L1773.6 451.1 L1791.6 453.9 L1809.7 466.8 L1827.8 479.0 L1845.9 489.5 L1864.0 495.8 L1882.0 501.3 L1900.1 505.2 L1918.2 505.2 L1936.3 503.3 L1954.4 501.3 L1972.4 499.7 L1990.5 495.8 L2008.6 491.1 L2026.7 486.8" fill="none" stroke="#808080" stroke-width="4.2" stroke-linejoin="round" stroke-linecap="butt"/>
<path d="M1610.8 433.1 L1628.9 428.0 L1647.0 422.9 L1665.1 420.2 L1683.2 419.4 L1701.2 414.3 L1719.3 404.1 L1737.4 392.0 L1755.5 376.7 L1773.6 376.3 L1791.6 402.5 L1809.7 435.1 L1827.8 455.8 L1845.9 471.1 L1864.0 481.7 L1882.0 488.0 L1900.1 491.5 L1918.2 490.3 L1936.3 484.4 L1954.4 479.7 L1972.4 471.5 L1990.5 459.4 L2008.6 448.8 L2026.7 441.3" fill="none" stroke="#00AFBB" stroke-width="4.2" stroke-linejoin="round" stroke-linecap="butt"/>
<path d="M1610.8 380.6 L1628.9 380.6 L1647.0 374.7 L1665.1 375.9 L1683.2 368.8 L1701.2 359.0 L1719.3 340.6 L1737.4 315.9 L1755.5 317.9 L1773.6 343.0 L1791.6 384.5 L1809.7 421.4 L1827.8 448.0 L1845.9 462.9 L1864.0 471.1 L1882.0 477.0 L1900.1 474.7 L1918.2 462.5 L1936.3 446.0 L1954.4 430.4 L1972.4 412.3 L1990.5 395.5 L2008.6 390.4 L2026.7 384.5" fill="none" stroke="#BD6A00" stroke-width="4.2" stroke-linejoin="round" stroke-linecap="butt"/>
<path d="M1610.8 261.8 L1628.9 248.9 L1647.0 241.9 L1665.1 234.4 L1683.2 227.4 L1701.2 232.8 L1719.3 233.2 L1737.4 232.8 L1755.5 265.8 L1773.6 329.6 L1791.6 392.4 L1809.7 438.6 L1827.8 464.1 L1845.9 476.2 L1864.0 484.1 L1882.0 489.2 L1900.1 486.8 L1918.2 471.5 L1936.3 440.2 L1954.4 395.5 L1972.4 351.6 L1990.5 321.8 L2008.6 302.2 L2026.7 283.0" fill="none" stroke="#E7B800" stroke-width="4.2" stroke-linejoin="round" stroke-linecap="butt"/>
<path d="M1610.8 357.9 L1628.9 354.7 L1647.0 350.8 L1665.1 347.7 L1683.2 332.8 L1701.2 315.9 L1719.3 282.2 L1737.4 247.3 L1755.5 247.0 L1773.6 268.1 L1791.6 306.9 L1809.7 343.8 L1827.8 381.8 L1845.9 396.7 L1864.0 411.6 L1882.0 416.3 L1900.1 414.7 L1918.2 408.8 L1936.3 388.8 L1954.4 369.2 L1972.4 357.9 L1990.5 351.6 L2008.6 348.5 L2026.7 350.0" fill="none" stroke="#FC4E07" stroke-width="4.2" stroke-linejoin="round" stroke-linecap="butt"/>
</g>
<rect x="1590.35" y="17.40" width="457.70" height="47.90" fill="#fff" stroke="#333333" stroke-opacity="0.62" stroke-width="1.15"/>
<rect x="1590.35" y="65.30" width="457.70" height="503.10" fill="none" stroke="#333333" stroke-opacity="0.62" stroke-width="1.15"/>
<text transform="translate(1819.20 52.90) scale(1.01 1.055)" font-size="34" text-anchor="middle" fill="#000">Autumn</text>
<text transform="translate(1610.25 612.20) scale(0.955 1)" font-size="35.2" text-anchor="middle" fill="#4D4D4D">0</text>
<text transform="translate(1700.65 612.20) scale(0.955 1)" font-size="35.2" text-anchor="middle" fill="#4D4D4D">5</text>
<text transform="translate(1791.05 612.20) scale(0.955 1)" font-size="35.2" text-anchor="middle" fill="#4D4D4D">10</text>
<text transform="translate(1881.45 612.20) scale(0.955 1)" font-size="35.2" text-anchor="middle" fill="#4D4D4D">15</text>
<text transform="translate(1971.85 612.20) scale(0.955 1)" font-size="35.2" text-anchor="middle" fill="#4D4D4D">20</text>
</g>
<text transform="translate(133.40 542.70) scale(0.955 1)" font-size="35.2" text-anchor="end" fill="#4D4D4D">420</text>
<text transform="translate(133.40 425.13) scale(0.955 1)" font-size="35.2" text-anchor="end" fill="#4D4D4D">450</text>
<text transform="translate(133.40 307.56) scale(0.955 1)" font-size="35.2" text-anchor="end" fill="#4D4D4D">480</text>
<text transform="translate(133.40 189.99) scale(0.955 1)" font-size="35.2" text-anchor="end" fill="#4D4D4D">510</text>
<text x="1101.00" y="659.30" font-size="41.6" text-anchor="middle" fill="#000">Hour of day (local)</text>
<text transform="translate(48.50 323.30) rotate(-90)" font-size="41.6" text-anchor="middle" fill="#000">Mean CO<tspan font-size="29.1" dy="8.3">2</tspan><tspan dy="-8.3"> (ppm)</tspan></text>
<text x="239.00" y="822.20" font-size="42.5" fill="#000">Site</text>
<rect x="335.10" y="733.90" width="60.2" height="60" fill="#000000" fill-opacity="0.30"/>
<path d="M339.10 763.90H391.30" stroke="#000000" stroke-width="4.2"/>
<text x="419.30" y="775.40" font-size="30.2" fill="#000">Jungfraujoch − High−alpine background</text>
<rect x="335.10" y="819.70" width="60.2" height="60" fill="#808080" fill-opacity="0.30"/>
<path d="M339.10 849.70H391.30" stroke="#808080" stroke-width="4.2"/>
<text x="419.30" y="861.20" font-size="30.2" fill="#000">Birchwil Turm − Rural background</text>
<rect x="976.20" y="733.90" width="60.2" height="60" fill="#00AFBB" fill-opacity="0.30"/>
<path d="M980.20 763.90H1032.40" stroke="#00AFBB" stroke-width="4.2"/>
<text x="1060.40" y="775.40" font-size="30.2" fill="#000">Hardau II − Urban</text>
<rect x="976.20" y="819.70" width="60.2" height="60" fill="#BD6A00" fill-opacity="0.30"/>
<path d="M980.20 849.70H1032.40" stroke="#BD6A00" stroke-width="4.2"/>
<text x="1060.40" y="861.20" font-size="30.2" fill="#000">Zurich Kaserne − Urban</text>
<rect x="1406.80" y="733.90" width="60.2" height="60" fill="#E7B800" fill-opacity="0.30"/>
<path d="M1410.80 763.90H1463.00" stroke="#E7B800" stroke-width="4.2"/>
<text x="1491.00" y="775.40" font-size="30.2" fill="#000">Reckenholz − Urban</text>
<rect x="1406.80" y="819.70" width="60.2" height="60" fill="#FC4E07" fill-opacity="0.30"/>
<path d="M1410.80 849.70H1463.00" stroke="#FC4E07" stroke-width="4.2"/>
<text x="1491.00" y="861.20" font-size="30.2" fill="#000">Rosengartenstrasse − Urban traffic</text>
<text x="2048.20" y="948.10" font-size="34" text-anchor="end" fill="#000">Ribbons indicate the 95 % CIs</text>
</svg></body></html>
